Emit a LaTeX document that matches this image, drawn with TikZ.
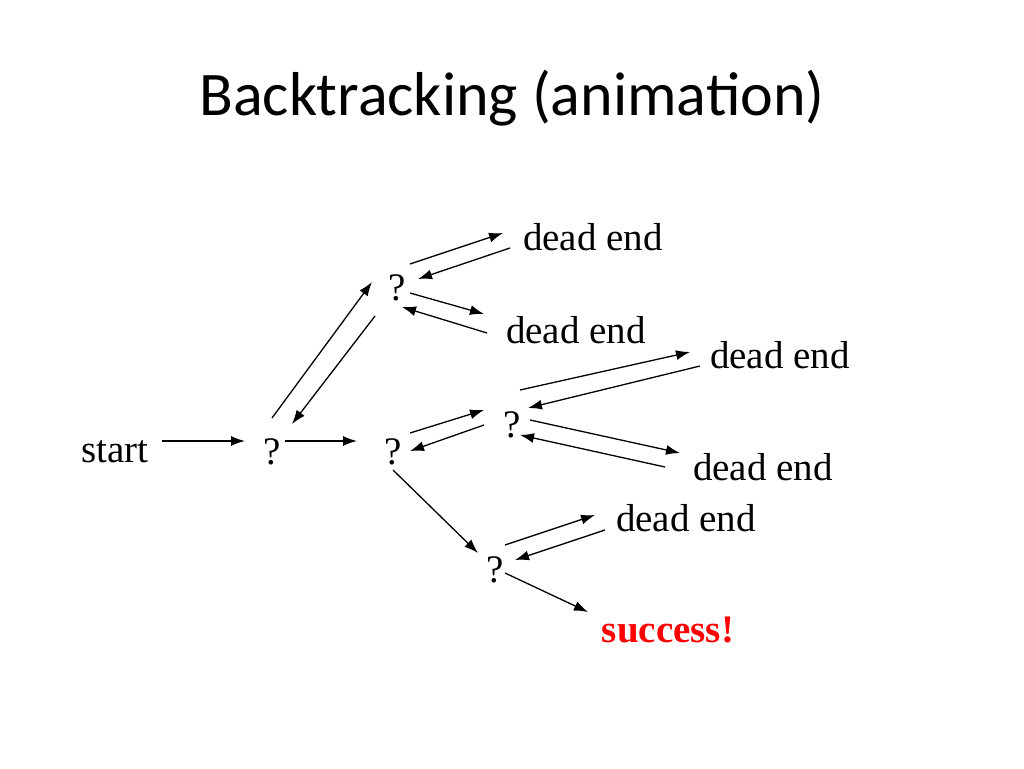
\documentclass[tikz,border=0pt]{standalone}
\usepackage{fontspec}
\usetikzlibrary{arrows.meta}
\setmainfont{Liberation Serif}
\newfontfamily\titlefont{Carlito}
\begin{document}
\begin{tikzpicture}[x=1pt,y=-1pt,
  lbl/.style={font=\fontsize{39}{44}\selectfont,inner sep=0pt},
  arr/.style={-{Latex[length=14pt,width=10pt]},line width=1.3pt}]
\useasboundingbox (0,0) rectangle (1024,768);
\node[font=\titlefont\fontsize{62}{70}\selectfont] (title) at (512,98) {Backtracking (animation)};
\node[lbl] (start) at (115,452) {start};
\node[lbl] (q1) at (272,452) {?};
\node[lbl] (q2) at (393,452) {?};
\node[lbl] (qt) at (397,288) {?};
\node[lbl] (qm) at (512,425) {?};
\node[lbl] (qb) at (495,570) {?};
\node[lbl] (d1) at (593,237) {dead end};
\node[lbl] (d2) at (576,330) {dead end};
\node[lbl] (d3) at (780,355) {dead end};
\node[lbl] (d4) at (763,467) {dead end};
\node[lbl] (d5) at (686,518) {dead end};
\node[lbl,font=\fontsize{39}{44}\selectfont\bfseries,text=red] (s) at (668,630) {success!};
\foreach \n/\a/\b/\c/\d in {
 a1/162/441/245/441, a2/285/441/357/441,
 a3/272/418/372/282, a4/375/316/292/424,
 a5/410/264/503/233, a6/510/248/418/279,
 a7/410/293/484/314, a8/487/333/402/307,
 a9/410/433/484/410, a10/484/425/410/451,
 a11/520/390/690/352, a12/700/366/528/408,
 a13/530/420/680/453, a14/665/467/520/435,
 a15/393/470/478/553,
 a16/505/545/595/515, a17/605/530/515/560,
 a18/505/573/588/612}
 {\coordinate (\n s) at (\a,\b); \coordinate (\n e) at (\c,\d); \draw[arr] (\n s) -- (\n e);}
\end{tikzpicture}
\end{document}
